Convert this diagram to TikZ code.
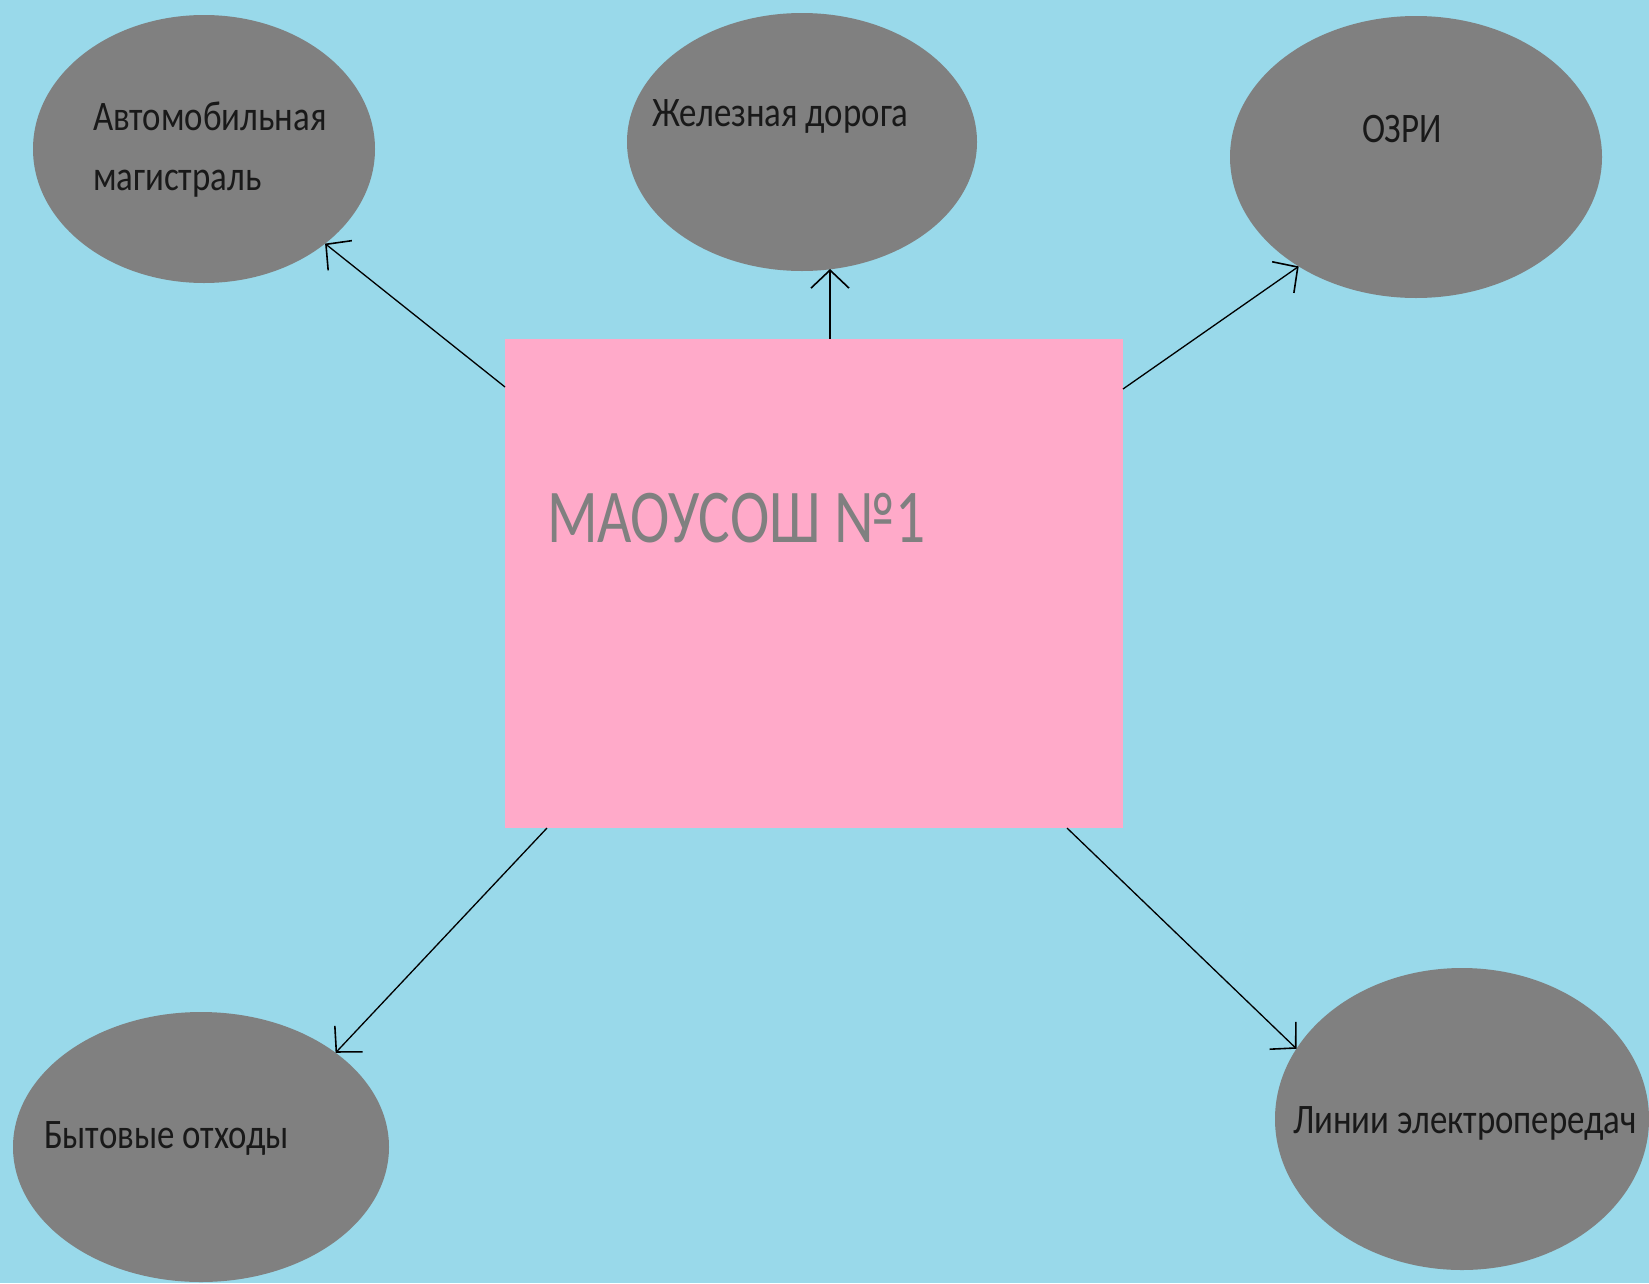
\documentclass[tikz,border=0pt]{standalone}
\usepackage{fontspec}
\setmainfont[FakeStretch=0.83]{Carlito}
\newfontfamily\titlefont[FakeStretch=0.78]{Carlito}
\usetikzlibrary{shapes.geometric,arrows.meta}
\definecolor{sky}{HTML}{99D9EA}
\definecolor{pinkbox}{HTML}{FFAAC9}
\definecolor{blob}{HTML}{808080}

\begin{document}
\begin{tikzpicture}[x=1pt, y=-1pt,
  every node/.style={inner sep=0pt, outer sep=0pt},
  oval/.style={ellipse, fill=blob},
  lbl/.style={anchor=base west, text=black!90, font=\fontsize{42}{60}\selectfont, align=left},
  arr/.style={line width=1.3pt, -{Straight Barb[length=18pt, width=38pt, line width=1.6pt]}}]
  \fill[sky] (0,0) rectangle (1649,1283);
  \useasboundingbox (0,0) rectangle (1649,1283);
  % centre box
  \node[fill=pinkbox, minimum width=618pt, minimum height=489pt] (school) at (814,583.5) {};
  \node[anchor=base west, text=blob, font=\titlefont\fontsize{76}{80}\selectfont] (schooltxt) at (547,542) {МАОУСОШ №1};
  % the five sources
  \node[oval, minimum width=342pt, minimum height=268pt] (road) at (204,149) {};
  \node[oval, minimum width=350pt, minimum height=258pt] (rail) at (802,142) {};
  \node[oval, minimum width=372pt, minimum height=282pt] (ozri) at (1416,157) {};
  \node[oval, minimum width=376pt, minimum height=270pt] (waste) at (201,1147) {};
  \node[oval, minimum width=374pt, minimum height=302pt] (power) at (1462,1119) {};
  \node[lbl] (roadtxt) at (93,190) {Автомобильная\\магистраль};
  \node[lbl] (railtxt) at (652,126) {Железная дорога};
  \node[lbl, anchor=base] (ozritxt) at (1402,142) {ОЗРИ};
  \node[lbl] (wastetxt) at (44,1148) {Бытовые отходы};
  \node[lbl] (powertxt) at (1293,1133) {Линии электропередач};
  % arrows
  \draw[arr] ([yshift=-48pt]school.north west) -- (road.-38.7);
  \draw[arr] ([xshift=16pt]school.north) -- ([xshift=28pt, yshift=2pt]rail.south);
  \draw[arr] ([yshift=-50pt]school.north east) -- (ozri.223.5);
  \draw[arr] ([xshift=42pt]school.south west) -- (waste.35);
  \draw[arr] ([xshift=-56pt]school.south east) -- (power.157.5);
\end{tikzpicture}
\end{document}
